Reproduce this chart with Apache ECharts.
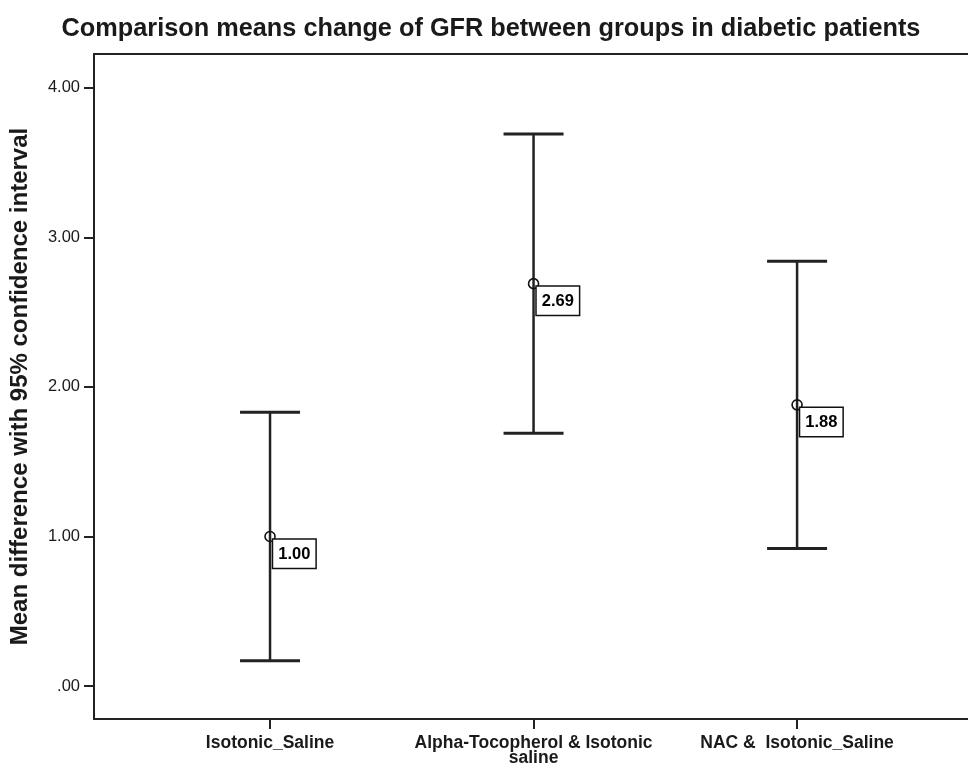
<!DOCTYPE html>
<html>
<head>
<meta charset="utf-8">
<script src="https://cdn.jsdelivr.net/npm/echarts@6/dist/echarts.min.js"></script>
<style>
html,body{margin:0;padding:0;background:#fff;}
#chart{width:968px;height:765px;}
</style>
</head>
<body>
<div id="chart"></div>
<script>
var categories = ['Isotonic_Saline', 'Alpha-Tocopherol & Isotonic\nsaline', 'NAC &  Isotonic_Saline'];
var means = [1.00, 2.69, 1.88];
var lower = [0.17, 1.69, 0.92];
var upper = [1.83, 3.69, 2.84];
var yTicks = [0, 1, 2, 3, 4];
var xPositions = [1, 2, 3];

var chart = echarts.init(document.getElementById('chart'));
var ebData = xPositions.map(function (x, i) { return [x, lower[i], upper[i]]; });
var meanData = xPositions.map(function (x, i) { return [x, means[i]]; });

var option = {
  backgroundColor: '#fff',
  animation: false,
  title: {
    text: 'Comparison means change of GFR between groups in diabetic patients',
    left: 486, top: 12, textAlign: 'center',
    textStyle: { fontFamily: 'Liberation Sans, Arial, sans-serif', fontSize: 25.3, fontWeight: 'bold', color: '#1a1a1a' }
  },
  grid: { left: 94, right: -3, top: 54, bottom: 46, containLabel: false, outerBoundsMode: 'none' },
  xAxis: [{
    type: 'value', min: 0.332, max: 3.66,
    axisLine: { show: true, onZero: false, lineStyle: { color: '#222', width: 2 } },
    splitLine: { show: false },
    axisTick: { show: true, length: 10, customValues: xPositions, lineStyle: { color: '#222', width: 2 } },
    axisLabel: {
      customValues: xPositions, margin: 17,
      formatter: function (v) { return categories[Math.round(v) - 1] || ''; },
      fontFamily: 'Liberation Sans, Arial, sans-serif', fontSize: 17.5, fontWeight: 'bold', color: '#1a1a1a', lineHeight: 15
    }
  }, {
    type: 'value', position: 'top', min: 0.332, max: 3.66,
    axisLine: { show: true, onZero: false, lineStyle: { color: '#222', width: 2 } },
    axisTick: { show: false }, axisLabel: { show: false }, splitLine: { show: false }
  }],
  yAxis: {
    type: 'value', min: -0.22, max: 4.225,
    name: 'Mean difference with 95% confidence interval',
    nameLocation: 'middle', nameGap: 62, nameRotate: 90,
    nameTextStyle: { fontFamily: 'Liberation Sans, Arial, sans-serif', fontSize: 24, fontWeight: 'bold', color: '#1a1a1a' },
    axisLine: { show: true, onZero: false, lineStyle: { color: '#222', width: 2 } },
    splitLine: { show: false },
    axisTick: { show: true, length: 10, customValues: yTicks, lineStyle: { color: '#222', width: 2 } },
    axisLabel: {
      customValues: yTicks, margin: 14,
      formatter: function (v) { return v === 0 ? '.00' : v.toFixed(2); },
      fontFamily: 'Liberation Sans, Arial, sans-serif', fontSize: 16.5, color: '#1a1a1a'
    }
  },
  series: [{
    type: 'custom',
    data: ebData,
    encode: { x: 0, y: [1, 2] },
    renderItem: function (params, api) {
      var x = api.value(0);
      var lo = api.coord([x, api.value(1)]);
      var hi = api.coord([x, api.value(2)]);
      var half = 30;
      var st = { stroke: '#222', lineWidth: 3 };
      return {
        type: 'group',
        children: [
          { type: 'line', shape: { x1: lo[0], y1: lo[1], x2: hi[0], y2: hi[1] }, style: { stroke: '#222', lineWidth: 2.5 } },
          { type: 'line', shape: { x1: hi[0] - half, y1: hi[1], x2: hi[0] + half, y2: hi[1] }, style: st },
          { type: 'line', shape: { x1: lo[0] - half, y1: lo[1], x2: lo[0] + half, y2: lo[1] }, style: st }
        ]
      };
    },
    z: 2
  }, {
    type: 'scatter',
    data: meanData,
    symbol: 'circle', symbolSize: 10,
    itemStyle: { color: 'rgba(255,255,255,0)', borderColor: '#111', borderWidth: 1.6, opacity: 1 },
    label: {
      show: true, position: [9, 9],
      formatter: function (p) { return p.value[1].toFixed(2); },
      fontFamily: 'Liberation Sans, Arial, sans-serif', fontSize: 16.5, fontWeight: 'bold', color: '#000',
      backgroundColor: '#fff', borderColor: '#111', borderWidth: 1.5,
      padding: [6, 5, 5, 5]
    },
    emphasis: { disabled: true },
    z: 3
  }]
};
chart.setOption(option);
</script>
</body>
</html>
